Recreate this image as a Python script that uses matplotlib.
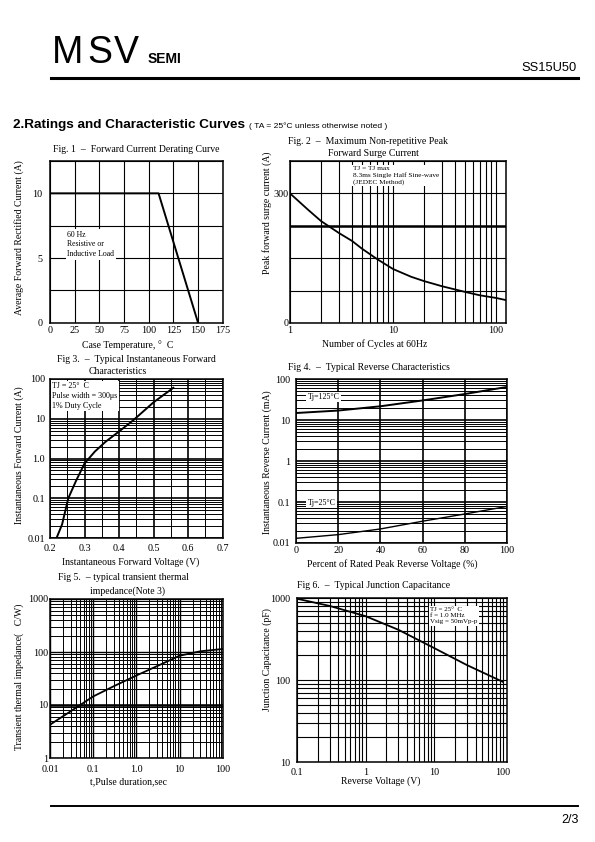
import numpy as np
import matplotlib
matplotlib.use('Agg')
import matplotlib.pyplot as plt
from matplotlib.lines import Line2D

W, H = 595, 842
SERIF = 'Liberation Serif'
SANS = ['Liberation Sans Narrow', 'Liberation Sans']

plt.rcParams['font.family'] = [SERIF, 'DejaVu Serif']

# Fig 1 - derating
derate_temp = [0, 110, 150]
derate_current = [10, 10, 0]

# Fig 2 - surge current
surge_cycles = [1, 1.5, 2, 3, 4, 5, 7, 10, 15, 20, 30, 50, 70, 100, 125]
surge_current = [300, 262, 236, 208, 190, 172, 148, 125, 107, 97, 85, 72, 64, 58, 53]

# Fig 3 - forward characteristics
fwd_voltage = [0.219, 0.235, 0.253, 0.275, 0.30, 0.33, 0.36, 0.40, 0.44, 0.50, 0.557]
fwd_current = [0.01, 0.022, 0.1, 0.27, 0.75, 1.5, 2.6, 4.8, 9, 26, 60]

# Fig 4 - reverse characteristics
rev_pct = [0, 20, 40, 60, 80, 100]
rev_125 = [14.8, 17, 21.6, 30, 43, 64]
rev_25 = [0.013, 0.016, 0.022, 0.034, 0.051, 0.078]

# Fig 5 - transient thermal impedance
pulse_t = [0.01, 0.03, 0.1, 0.3, 1, 3, 10, 30, 100]
thermal_z = [4.25, 7.6, 14.5, 22.6, 36, 54, 85, 103, 114]

# Fig 6 - junction capacitance
cap_v = [0.1, 0.3, 1, 3, 10, 30, 100]
cap_pf = [980, 800, 600, 410, 245, 152, 95]

fig = plt.figure(figsize=(W / 100, H / 100), dpi=100)


def box(x0, y0, x1, y1):
    return [x0 / W, 1 - y1 / H, (x1 - x0) / W, (y1 - y0) / H]


def put(x, y, s, **kw):
    fig.text(x / W, 1 - y / H, s, **kw)


def hline(x0, x1, y, lw):
    fig.add_artist(Line2D([x0 / W, x1 / W], [1 - y / H, 1 - y / H],
                          transform=fig.transFigure, color='black', lw=lw))


def style(ax, xpad, ypad):
    ax.tick_params(which='both', length=0, labelsize=7.3)
    ax.tick_params(axis='x', which='both', pad=xpad)
    ax.tick_params(axis='y', which='both', pad=ypad)
    for s in ax.spines.values():
        s.set_linewidth(1.1)


def note(ax, x, y, s, size):
    ax.text(x, y, s, transform=ax.transAxes, ha='left', va='top', fontsize=size,
            linespacing=1.3, zorder=5,
            bbox=dict(fc='white', ec='none', pad=1.0))


def log_minor(axis):
    axis.set_minor_locator(matplotlib.ticker.LogLocator(subs=np.arange(2, 10)))
    axis.set_minor_formatter(plt.NullFormatter())


# header
put(52, 63, 'M', family=SANS, fontsize=27, va='baseline')
put(87, 63, 'S', family=SANS, fontsize=27, va='baseline')
put(114, 63, 'V', family=SANS, fontsize=27, va='baseline')
put(148, 63, 'SEMI', family='Liberation Sans', fontsize=10, weight='bold', va='baseline')
put(577, 71, 'SS15U50', family='Liberation Sans', fontsize=9.3, ha='right', va='baseline')
hline(51, 578, 78, 2.2)
hline(51, 578, 806, 1.4)
put(579, 823, '2/3', family='Liberation Sans', fontsize=9, ha='right', va='baseline')
put(13, 128, '2.Ratings and Characteristic Curves', family='Liberation Sans',
    fontsize=9.7, weight='bold', va='baseline')
put(249, 128, '( TA = 25°C unless otherwise noted )', family='Liberation Sans',
    fontsize=6.1, va='baseline')

# Fig 1
ax1 = fig.add_axes(box(50, 161, 222.7, 322.7))
ax1.plot(derate_temp, derate_current, color='black', lw=1.4)
ax1.set_xlim(0, 175)
ax1.set_ylim(0, 12.5)
ax1.set_xticks(np.arange(0, 176, 25))
ax1.set_yticks([0, 5, 10])
ax1.set_yticks(np.arange(0, 12.6, 2.5), minor=True)
ax1.grid(which='both', color='black', lw=0.8)
style(ax1, 2.5, 5.5)
note(ax1, 0.1, 0.57, '60 Hz\nResistive or\nInductive Load', 5.6)
put(136, 149, 'Fig. 1  –  Forward Current Derating Curve', fontsize=7, ha='center', va='center')
put(128, 345, 'Case Temperature, °  C', fontsize=7, ha='center', va='center')
put(19, 238, 'Average Forward Rectified Current (A)', fontsize=7, rotation=90,
    ha='center', va='center')

# Fig 2
ax2 = fig.add_axes(box(290, 161, 506, 323))
ax2.plot(surge_cycles, surge_current, color='black', lw=1.3)
ax2.set_xscale('log')
ax2.set_xlim(1, 125)
ax2.set_ylim(0, 375)
ax2.set_xticks([1, 10, 100])
ax2.set_xticklabels(['1', '10', '100'])
ax2.set_yticks([0, 300])
ax2.set_yticks(np.arange(0, 376, 75), minor=True)
ax2.yaxis.set_minor_formatter(plt.NullFormatter())
ax2.grid(which='both', color='black', lw=0.8)
ax2.axhline(225, color='black', lw=1.8)
style(ax2, 2.5, 1)
note(ax2, 0.29, 0.97, 'TJ = TJ max\n8.3ms Single Half Sine-wave\n(JEDEC Method)', 5.2)
put(288, 141, 'Fig. 2  –  Maximum Non-repetitive Peak', fontsize=7, ha='left', va='center')
put(328, 154, 'Forward Surge Current', fontsize=7, ha='left', va='center')
put(375, 344, 'Number of Cycles at 60Hz', fontsize=7, ha='center', va='center')
put(267, 213, 'Peak forward surge current (A)', fontsize=7, rotation=90,
    ha='center', va='center')

# Fig 3
ax3 = fig.add_axes(box(50, 379, 222.7, 538))
ax3.plot(fwd_voltage, fwd_current, color='black', lw=1.4)
ax3.set_yscale('log')
ax3.set_xlim(0.2, 0.7)
ax3.set_ylim(0.01, 100)
ax3.set_xticks(np.arange(0.2, 0.71, 0.1))
ax3.set_xticklabels(['0.2', '0.3', '0.4', '0.5', '0.6', '0.7'])
ax3.set_xticks(np.arange(0.2, 0.71, 0.05), minor=True)
ax3.set_yticks([0.01, 0.1, 1, 10, 100])
ax3.set_yticklabels(['0.01', '0.1', '1.0', '10', '100'])
log_minor(ax3.yaxis)
ax3.xaxis.set_minor_formatter(plt.NullFormatter())
ax3.grid(which='minor', color='black', lw=0.7)
ax3.grid(which='major', color='black', lw=1.2)
style(ax3, 4.5, 3.6)
note(ax3, 0.012, 0.98, 'TJ = 25°  C\nPulse width = 300μs\n1% Duty Cycle', 5.8)
put(136, 360, 'Fig 3.  –  Typical Instantaneous Forward', fontsize=7, ha='center', va='center')
put(118, 372, 'Characteristics', fontsize=7, ha='center', va='center')
put(131, 562, 'Instantaneous Forward Voltage (V)', fontsize=7, ha='center', va='center')
put(19, 455, 'Instantaneous Forward Current (A)', fontsize=7, rotation=90,
    ha='center', va='center')

# Fig 4
ax4 = fig.add_axes(box(296, 379, 507, 543))
ax4.plot(rev_pct, rev_125, color='black', lw=1.4)
ax4.plot(rev_pct, rev_25, color='black', lw=1.0)
ax4.set_yscale('log')
ax4.set_xlim(0, 100)
ax4.set_ylim(0.01, 100)
ax4.set_xticks(np.arange(0, 101, 20))
ax4.set_yticks([0.01, 0.1, 1, 10, 100])
ax4.set_yticklabels(['0.01', '0.1', '1', '10', '100'])
log_minor(ax4.yaxis)
ax4.grid(which='minor', color='black', lw=0.7)
ax4.grid(which='major', color='black', lw=1.2)
style(ax4, 2.5, 4.3)
ax4.text(0.055, 0.89, 'Tj=125°C', transform=ax4.transAxes, fontsize=5.8, va='center',
         zorder=5, bbox=dict(fc='white', ec='none', pad=0.8))
ax4.text(0.055, 0.245, 'Tj=25°C', transform=ax4.transAxes, fontsize=5.8, va='center',
         zorder=5, bbox=dict(fc='white', ec='none', pad=0.8))
put(288, 367, 'Fig 4.  –  Typical Reverse Characteristics', fontsize=7, ha='left', va='center')
put(392, 564, 'Percent of Rated Peak Reverse Voltage (%)', fontsize=7, ha='center', va='center')
put(267, 462, 'Instantaneous Reverse Current (mA)', fontsize=7, rotation=90,
    ha='center', va='center')

# Fig 5
ax5 = fig.add_axes(box(50, 599, 222.7, 758))
ax5.plot(pulse_t, thermal_z, color='black', lw=1.3)
ax5.set_xscale('log')
ax5.set_yscale('log')
ax5.set_xlim(0.01, 100)
ax5.set_ylim(1, 1000)
ax5.set_xticks([0.01, 0.1, 1, 10, 100])
ax5.set_xticklabels(['0.01', '0.1', '1.0', '10', '100'])
ax5.set_yticks([1, 10, 100, 1000])
ax5.set_yticklabels(['1', '10', '100', '1000'])
log_minor(ax5.xaxis)
log_minor(ax5.yaxis)
ax5.grid(which='minor', color='black', lw=0.7)
ax5.grid(which='major', color='black', lw=1.0)
ax5.axhline(10, color='black', lw=1.8)
style(ax5, 5, 1.5)
put(124, 578, 'Fig 5.  – typical transient thermal', fontsize=7, ha='center', va='center')
put(128, 591, 'impedance(Note 3)', fontsize=7, ha='center', va='center')
put(129, 782, 't,Pulse duration,sec', fontsize=7, ha='center', va='center')
put(19, 677, 'Transient thermal impedance(   C/W)', fontsize=7, rotation=90,
    ha='center', va='center')

# Fig 6
ax6 = fig.add_axes(box(297, 598, 507, 762))
ax6.plot(cap_v, cap_pf, color='black', lw=1.3)
ax6.set_xscale('log')
ax6.set_yscale('log')
ax6.set_xlim(0.1, 115)
ax6.set_ylim(10, 1000)
ax6.set_xticks([0.1, 1, 10, 100])
ax6.set_xticklabels(['0.1', '1', '10', '100'])
ax6.set_yticks([10, 100, 1000])
ax6.set_yticklabels(['10', '100', '1000'])
log_minor(ax6.xaxis)
log_minor(ax6.yaxis)
ax6.grid(which='both', color='black', lw=0.8)
style(ax6, 4, 5)
note(ax6, 0.635, 0.945, 'TJ = 25°  C\nf = 1.0 MHz\nVsig = 50mVp-p', 5)
put(297, 585, 'Fig 6.  –  Typical Junction Capacitance', fontsize=7, ha='left', va='center')
put(381, 781, 'Reverse Voltage (V)', fontsize=7, ha='center', va='center')
put(267, 660, 'Junction Capacitance (pF)', fontsize=7, rotation=90,
    ha='center', va='center')

fig.savefig('out.png', dpi=100)
